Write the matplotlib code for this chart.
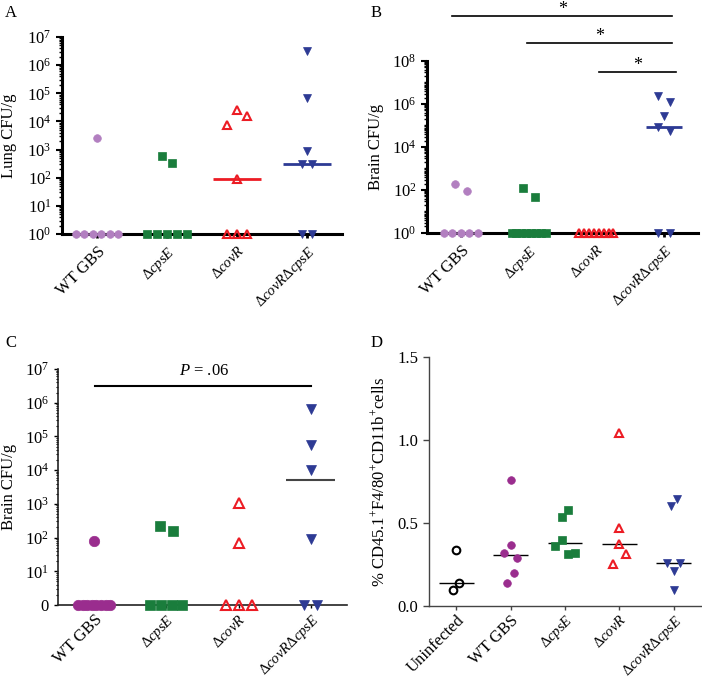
import numpy as np
import matplotlib
matplotlib.use('Agg')
import matplotlib.pyplot as plt
from matplotlib.ticker import LogLocator, NullFormatter

plt.rcParams['font.family'] = 'Liberation Serif'
plt.rcParams['mathtext.fontset'] = 'custom'
plt.rcParams['mathtext.rm'] = 'Liberation Serif'
plt.rcParams['mathtext.it'] = 'Liberation Serif:italic'
plt.rcParams['font.size'] = 12

groups4 = ['WT GBS', r'$\Delta cpsE$', r'$\Delta covR$', r'$\Delta covR\Delta cpsE$']
groups5 = ['Uninfected'] + groups4

# A: lung CFU/g (zeros shown on the 10^0 line)
lung_wt = [2600, 1, 1, 1, 1, 1, 1]
lung_cpse = [610, 345, 1, 1, 1, 1, 1]
lung_covr = [7600, 26000, 15000, 91, 1, 1, 1]
lung_dbl = [3.3e6, 7e4, 900, 310, 310, 1, 1]

# B: brain CFU/g
brainB_wt = [180, 93, 1, 1, 1, 1, 1]
brainB_cpse = [130, 49, 1, 1, 1, 1, 1, 1, 1, 1]
brainB_covr = [1, 1, 1, 1, 1, 1, 1, 1]
brainB_dbl = [2.4e6, 1.3e6, 2.9e5, 8.8e4, 5.5e4, 1, 1]

# C: brain CFU/g, second experiment
brainC_wt = [80, 0, 0, 0, 0, 0, 0, 0, 0]
brainC_cpse = [220, 160, 0, 0, 0, 0]
brainC_covr = [1050, 70, 0, 0, 0]
brainC_dbl = [6.4e5, 5.6e4, 1e4, 91, 0, 0]

# D: % CD45.1+F4/80+CD11b+ cells
mac_uninf = [0.34, 0.095, 0.139]
mac_wt = [0.759, 0.322, 0.37, 0.288, 0.141, 0.201]
mac_cpse = [0.538, 0.578, 0.362, 0.40, 0.312, 0.32]
mac_covr = [1.04, 0.471, 0.256, 0.374, 0.316]
mac_dbl = [0.604, 0.642, 0.26, 0.209, 0.26, 0.099]

purple_l = '#b27fc0'
purple_d = '#9a2d8e'
green = '#1a7d3c'
red = '#ec1c24'
blue = '#2d3a94'


def spread(ax, xc, vals, step, maxw, thr):
    v = np.asarray(vals, float)
    py = ax.transData.transform(np.column_stack([np.full(len(v), xc), v]))[:, 1]
    pxu = ax.transData.transform([(1, 1)])[0, 0] - ax.transData.transform([(0, 1)])[0, 0]
    order = np.argsort(-py, kind='stable')
    bins = []
    for i in order:
        if bins and abs(py[bins[-1][-1]] - py[i]) <= thr:
            bins[-1].append(i)
        else:
            bins.append([i])
    xs = np.full(len(v), float(xc))
    for b in bins:
        b = sorted(b)
        n = len(b)
        s = step if n < 2 else min(step, maxw / (n - 1))
        for k, i in enumerate(b):
            xs[i] = xc + (k - (n - 1) / 2) * s / pxu
    return xs


def dots(ax, data, styles, ms, step, maxw, thr, med, base=None):
    # med = (colors, half width, linewidth)
    for i, vals in enumerate(data):
        v = np.asarray(vals, float)
        if base is not None:
            v = np.where(v <= 0, base, v)
        xs = spread(ax, i + 0.5, v, step, maxw, thr)
        col, mk, filled = styles[i]
        ax.plot(xs, v, ls='none', marker=mk, ms=ms, color=col,
                mfc=col if filled else 'none', mew=1.5 if not filled else 0.5,
                clip_on=False, zorder=4)
        m = np.median(v)
        if med[0][i] is not None and (base is None or m > base):
            ax.plot([i + 0.5 - med[1], i + 0.5 + med[1]], [m, m], color=med[0][i],
                    lw=med[2], zorder=3, solid_capstyle='butt')


def style_log(ax, top, lw, color):
    ax.set_yscale('log')
    ax.set_ylim(1, top)
    for s in ['top', 'right']:
        ax.spines[s].set_visible(False)
    for s in ['left', 'bottom']:
        ax.spines[s].set_linewidth(lw)
        ax.spines[s].set_color(color)
    ax.yaxis.set_minor_locator(LogLocator(base=10, subs=np.arange(1, 10), numticks=100))
    ax.yaxis.set_minor_formatter(NullFormatter())


def xlabels(ax, labels):
    ax.set_xticks(np.arange(len(labels)) + 0.5)
    ax.set_xticklabels(labels, rotation=45, ha='right', rotation_mode='anchor')
    for t in ax.get_xticklabels():
        if t.get_text().startswith('$'):
            t.set_fontsize(10.5)


fig = plt.figure(figsize=(7.02, 6.8), dpi=100)

# ---------- A ----------
axA = fig.add_axes([0.0883, 0.6559, 0.3989, 0.2897])
style_log(axA, 1e7, 2.2, 'black')
axA.set_xlim(0, 4)
axA.set_yticks([10.0 ** k for k in range(8)])
axA.set_yticklabels([r'$10^{%d}$' % k for k in range(8)])
axA.tick_params(axis='y', which='major', length=4, width=1.5, direction='out')
axA.tick_params(axis='y', which='minor', length=2.5, width=1, direction='out')
xlabels(axA, groups4)
axA.tick_params(axis='x', length=3, width=2, pad=4)
dots(axA, [lung_wt, lung_cpse, lung_covr, lung_dbl],
     [(purple_l, 'o', True), (green, 's', True), (red, '^', False), (blue, 'v', True)],
     5.5, 10, 42, 10, ([None, None, red, blue], 0.34, 2))
axA.set_ylabel('Lung CFU/g')
axA.yaxis.set_label_coords(-0.16, 0.5)

# ---------- B ----------
axB = fig.add_axes([0.6083, 0.6574, 0.3860, 0.2529])
style_log(axB, 1e8, 2.2, 'black')
axB.set_xlim(0, 4)
axB.set_yticks([10.0 ** k for k in range(0, 9, 2)])
axB.set_yticklabels([r'$10^{%d}$' % k for k in range(0, 9, 2)])
axB.tick_params(axis='y', which='major', length=4, width=1.5, direction='out')
axB.tick_params(axis='y', which='minor', length=2.5, width=1, direction='out')
xlabels(axB, groups4)
axB.tick_params(axis='x', length=3, width=2, pad=4)
dots(axB, [brainB_wt, brainB_cpse, brainB_covr, brainB_dbl],
     [(purple_l, 'o', True), (green, 's', True), (red, '^', False), (blue, 'v', True)],
     5.5, 12, 34, 10, ([None, None, None, blue], 0.27, 2))
axB.set_ylabel('Brain CFU/g')
axB.yaxis.set_label_coords(-0.159, 0.5)
tr = axB.get_xaxis_transform()
for x0, x1, yl, ys in [(0.37, 3.62, 1.263, 1.3), (1.48, 3.62, 1.105, 1.145), (2.54, 3.67, 0.936, 0.975)]:
    axB.plot([x0, x1], [yl, yl], color='black', lw=1.2, transform=tr, clip_on=False)
    axB.text((x0 + x1) / 2, ys, '*', transform=tr, ha='center', va='center', fontsize=13)

# ---------- C ----------
axC = fig.add_axes([0.0826, 0.1103, 0.4117, 0.3471])
style_log(axC, 1e7, 1.2, '#222222')
axC.set_xlim(0, 4)
axC.set_yticks([10.0 ** k for k in range(8)])
axC.set_yticklabels(['0'] + [r'$10^{%d}$' % k for k in range(1, 8)])
axC.tick_params(axis='y', which='major', length=3, width=1, direction='out')
axC.tick_params(axis='y', which='minor', length=1.5, width=0.8, direction='out')
xlabels(axC, groups4)
axC.tick_params(axis='x', length=2, width=1, pad=3)
dots(axC, [brainC_wt, brainC_cpse, brainC_covr, brainC_dbl],
     [(purple_d, 'o', True), (green, 's', True), (red, '^', False), (blue, 'v', True)],
     7.5, 13, 32, 10, ([None, None, None, '#444444'], 0.34, 1.5), base=1)
axC.set_ylabel('Brain CFU/g')
axC.yaxis.set_label_coords(-0.142, 0.5)
axC.plot([0.51, 3.5], [3.2e6, 3.2e6], color='black', lw=1.5, clip_on=False)
axC.text(2.02, 5.2e6, r'$P$ = .06', ha='center', va='bottom', fontsize=12)

# ---------- D ----------
axD = fig.add_axes([0.6111, 0.1088, 0.3875, 0.3662])
axD.set_xlim(0, 5)
axD.set_ylim(0, 1.5)
for s in ['top', 'right']:
    axD.spines[s].set_visible(False)
for s in ['left', 'bottom']:
    axD.spines[s].set_linewidth(1)
    axD.spines[s].set_color('#444444')
axD.set_yticks([0, 0.5, 1.0, 1.5])
axD.set_yticklabels(['0.0', '0.5', '1.0', '1.5'])
axD.tick_params(axis='y', length=4, width=1, color='#444444')
xlabels(axD, groups5)
axD.tick_params(axis='x', length=3, width=1, color='#444444', pad=1.5)
dots(axD, [mac_uninf, mac_wt, mac_cpse, mac_covr, mac_dbl],
     [('black', 'o', False), (purple_d, 'o', True), (green, 's', True), (red, '^', False), (blue, 'v', True)],
     5.5, 6.5, 30, 11, (['black'] * 5, 0.32, 1))
axD.set_ylabel(r'% CD45.1$^{+}$F4/80$^{+}$CD11b$^{+}$cells')
axD.yaxis.set_label_coords(-0.151, 0.5)

for lbl, x, y in [('A', 0.007, 0.993), ('B', 0.528, 0.993), ('C', 0.007, 0.508), ('D', 0.528, 0.508)]:
    fig.text(x, y, lbl, ha='left', va='top', fontsize=12)

fig.savefig('out.png', dpi=100, facecolor='white')
